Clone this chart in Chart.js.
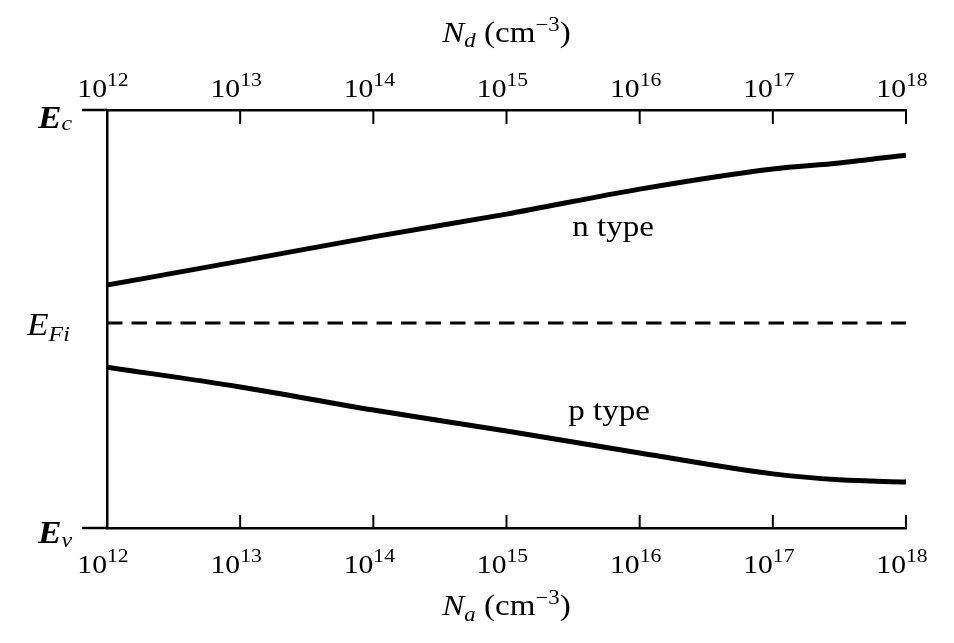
<!DOCTYPE html>
<html>
<head>
<meta charset="utf-8">
<script src="https://cdn.jsdelivr.net/npm/chart.js@4.4.1/dist/chart.umd.min.js"></script>
<style>
  body { margin: 0; background: #fff; }
</style>
</head>
<body>
<canvas id="chart" width="954" height="643"></canvas>
<script>
// doping (cm^-3) and Fermi level above Ev (eV)
const dopingLevels = [1e12, 1e13, 1e14, 1e15, 1e16, 1e17, 3.16e17, 1e18];
const nTypeLevel = [0.651, 0.715, 0.780, 0.841, 0.908, 0.962, 0.978, 0.999];
const pTypeLevel = [0.431, 0.378, 0.316, 0.260, 0.201, 0.145, 0.129, 0.123];
const intrinsicX = [1e12, 1e18];
const intrinsicLevel = 0.549;
const conductionBand = 1.12;
const valenceBand = 0;
const tickExponents = [12, 13, 14, 15, 16, 17, 18];

const SERIF = '"Liberation Serif", "Times New Roman", serif';
const SX = 1.14; // the scanned text is a bit wide

function textRun(ctx, parts, x, y, align) {
    let w = 0;
    for (const p of parts) { ctx.font = p[1]; w += ctx.measureText(p[0]).width; }
    let start = x;
    if (align === 'center') start = x - w * SX / 2;
    if (align === 'right') start = x - w * SX;
    ctx.save();
    ctx.translate(start, y);
    ctx.scale(SX, 1);
    ctx.textAlign = 'left';
    ctx.textBaseline = 'alphabetic';
    ctx.fillStyle = '#000';
    let cx = 0;
    for (const p of parts) {
        ctx.font = p[1];
        ctx.fillText(p[0], cx, p[2] || 0);
        cx += ctx.measureText(p[0]).width;
    }
    ctx.restore();
}

function powerLabel(ctx, exp, x, y) {
    ctx.font = '26px ' + SERIF;
    const wb = ctx.measureText('10').width;
    textRun(ctx, [['10', '26px ' + SERIF], [String(exp), '19px ' + SERIF, -11]], x - wb * SX, y, 'left');
}

const decorations = {
    id: 'decorations',
    afterDraw(chart) {
        const ctx = chart.ctx;
        const xs = chart.scales.x;
        const xt = chart.scales.x2;
        const ys = chart.scales.y;
        const area = chart.chartArea;

        ctx.save();
        ctx.strokeStyle = '#000';
        // axis stubs left of the energy axis
        ctx.lineWidth = 2.5;
        ctx.beginPath();
        ctx.moveTo(82, area.top); ctx.lineTo(area.left, area.top);
        ctx.moveTo(82, area.bottom); ctx.lineTo(area.left, area.bottom);
        ctx.stroke();

        // inward ticks
        ctx.lineWidth = 2;
        ctx.beginPath();
        for (const e of tickExponents) {
            const bx = xs.getPixelForValue(Math.pow(10, e));
            ctx.moveTo(bx, area.bottom); ctx.lineTo(bx, area.bottom - 13);
            const tx = xt.getPixelForValue(Math.pow(10, e));
            ctx.moveTo(tx, area.top); ctx.lineTo(tx, area.top + 14);
        }
        ctx.stroke();
        ctx.restore();

        // tick labels
        for (const e of tickExponents) {
            powerLabel(ctx, e, xs.getPixelForValue(Math.pow(10, e)), area.bottom + 45);
            powerLabel(ctx, e, xt.getPixelForValue(Math.pow(10, e)), area.top - 13);
        }

        // axis titles
        const mid = (area.left + area.right) / 2;
        const big = '29px ' + SERIF, bigI = 'italic 29px ' + SERIF, sm = '20px ' + SERIF, smI = 'italic 20px ' + SERIF;
        textRun(ctx, [['N', bigI], ['d', smI, 5], [' (cm', big], ['\u22123', sm, -11], [')', big]], mid, area.top - 68, 'center');
        textRun(ctx, [['N', bigI], ['a', smI, 6], [' (cm', big], ['\u22123', sm, -11], [')', big]], mid, area.bottom + 87, 'center');

        // energy levels
        textRun(ctx, [['E', 'bold italic 31px ' + SERIF], ['c', 'italic 21px ' + SERIF, 2]], area.left - 69, ys.getPixelForValue(conductionBand) + 18, 'left');
        textRun(ctx, [['E', 'italic 31px ' + SERIF], ['Fi', 'italic 21px ' + SERIF, 6]], area.left - 80, ys.getPixelForValue(intrinsicLevel) + 12, 'left');
        textRun(ctx, [['E', 'bold italic 31px ' + SERIF], ['v', 'italic 21px ' + SERIF, 4]], area.left - 69, ys.getPixelForValue(valenceBand) + 15, 'left');

        // curve labels
        textRun(ctx, [['n type', '29px ' + SERIF]], xs.getPixelForValue(Math.pow(10, 15.8)), ys.getPixelForValue(0.782), 'center');
        textRun(ctx, [['p type', '29px ' + SERIF]], xs.getPixelForValue(Math.pow(10, 15.77)), ys.getPixelForValue(0.289), 'center');
    }
};

const ctx = document.getElementById('chart').getContext('2d');
const chart = new Chart(ctx, {
    type: 'line',
    data: {
        datasets: [
            {
                label: 'n type',
                data: dopingLevels.map((x, i) => ({ x: x, y: nTypeLevel[i] })),
                borderColor: '#000',
                borderWidth: 5,
                cubicInterpolationMode: 'monotone',
                pointRadius: 0,
                fill: false
            },
            {
                label: 'p type',
                data: dopingLevels.map((x, i) => ({ x: x, y: pTypeLevel[i] })),
                borderColor: '#000',
                borderWidth: 5,
                cubicInterpolationMode: 'monotone',
                pointRadius: 0,
                fill: false
            },
            {
                label: 'EFi',
                data: intrinsicX.map(x => ({ x: x, y: intrinsicLevel })),
                borderColor: '#000',
                borderWidth: 3,
                borderDash: [15.5, 9],
                pointRadius: 0,
                fill: false
            }
        ]
    },
    options: {
        responsive: false,
        animation: false,
        layout: { padding: { left: 99, right: 48, top: 102, bottom: 107 } },
        plugins: { legend: { display: false }, tooltip: { enabled: false } },
        scales: {
            x: {
                type: 'logarithmic',
                position: 'bottom',
                min: 1e12,
                max: 1e18,
                grid: { display: false },
                ticks: { display: false },
                border: { display: true, color: '#000', width: 2.5 }
            },
            x2: {
                type: 'logarithmic',
                position: 'top',
                min: 1e12,
                max: 1e18,
                grid: { display: false },
                ticks: { display: false },
                border: { display: true, color: '#000', width: 2.5 }
            },
            y: {
                type: 'linear',
                min: valenceBand,
                max: conductionBand,
                grid: { display: false },
                ticks: { display: false },
                border: { display: true, color: '#000', width: 2.5 }
            }
        }
    },
    plugins: [decorations]
});
</script>
</body>
</html>
